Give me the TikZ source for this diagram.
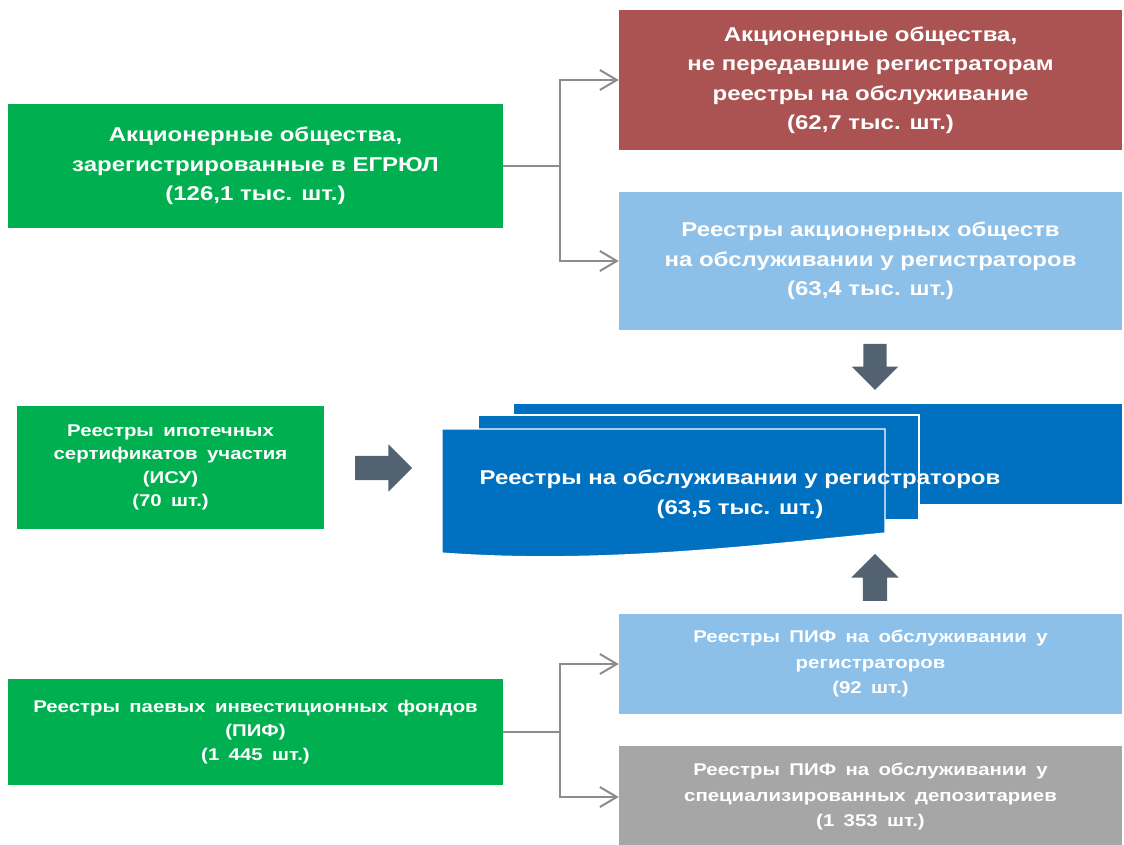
\documentclass[tikz,border=0pt]{standalone}
\usepackage{fontspec}
\setmainfont{Liberation Sans}[FakeStretch=1.2]
\usetikzlibrary{arrows.meta,shapes.arrows}
\definecolor{boxgreen}{RGB}{0,176,80}
\definecolor{boxred}{RGB}{170,83,82}
\definecolor{boxlight}{RGB}{141,192,232}
\definecolor{boxblue}{RGB}{0,112,192}
\definecolor{boxgray}{RGB}{166,166,166}
\definecolor{arrgray}{RGB}{83,98,112}
\definecolor{linegray}{RGB}{140,140,140}
\newcommand{\widesp}{\spaceskip=0.55em\relax}

\begin{document}
\begin{tikzpicture}[x=1pt,y=-1pt,
	box/.style={rectangle,inner sep=0pt,align=center,text=white,font=\bfseries\fontsize{20}{29.5}\selectfont},
	smallbox/.style={box,font=\bfseries\fontsize{17}{25.5}\selectfont\widesp},
	page/.style={fill=boxblue,draw=white,line width=1.2pt},
	link/.style={draw=linegray,line width=2pt},
	linkarr/.style={link,-{Straight Barb[length=17pt,width=20pt]}},
	blockarr/.style={single arrow,fill=arrgray,inner xsep=0pt,single arrow tip angle=90,single arrow head indent=0pt}]
	\useasboundingbox (0,0) rectangle (1124,844);
	\node (ao) at (255.5,166)[box,fill=boxgreen,minimum width=495,minimum height=124] {Акционерные общества,\\ зарегистрированные в ЕГРЮЛ\\ (126,1 тыс. шт.)};
	\node (notreg) at (870.5,80)[box,fill=boxred,minimum width=503,minimum height=140] {Акционерные общества,\\ не передавшие регистраторам\\ реестры на обслуживание\\ (62,7 тыс. шт.)};
	\node (onreg) at (870.5,261)[box,fill=boxlight,minimum width=503,minimum height=138] {Реестры акционерных обществ\\ на обслуживании у регистраторов\\ (63,4 тыс. шт.)};
	\node (isu) at (170.5,467.5)[smallbox,fill=boxgreen,minimum width=307,minimum height=123,font=\bfseries\fontsize{17}{23.5}\selectfont\widesp] {Реестры ипотечных\\ сертификатов участия\\ (ИСУ)\\ (70 шт.)};
	\node (pifreg) at (870.5,664)[smallbox,fill=boxlight,minimum width=503,minimum height=100] {Реестры ПИФ на обслуживании у\\ регистраторов\\ (92 шт.)};
	\node (pifdep) at (870.5,797)[smallbox,fill=boxgray,minimum width=503,minimum height=102] {Реестры ПИФ на обслуживании у\\ специализированных депозитариев\\ (1 353 шт.)};
	\node (pif) at (255.5,732)[smallbox,fill=boxgreen,minimum width=495,minimum height=106,font=\bfseries\fontsize{17}{24}\selectfont\widesp] {Реестры паевых инвестиционных фондов\\ (ПИФ)\\ (1 445 шт.)};
	\filldraw[page] (513,403) rectangle (1123,505);
	\filldraw[page] (478,415) rectangle (919,520);
	\filldraw[page] (442,429) -- (885,429) -- (885,533) .. controls (760,545) and (600,565) .. (442,553) -- cycle;
	\node (regs) at (740,494)[box] {Реестры на обслуживании у регистраторов\\ (63,5 тыс. шт.)};
	\node (arrisu) at (377.5,468)[blockarr,inner ysep=12pt,single arrow head extend=11.5pt,minimum height=57] {};
	\node (arrdown) at (875,361)[blockarr,rotate=-90,inner ysep=11.5pt,single arrow head extend=11.5pt,minimum height=46] {};
	\node (arrup) at (875,583.5)[blockarr,rotate=90,inner ysep=12pt,single arrow head extend=11.5pt,minimum height=47] {};
	\coordinate (jtop) at (560,166);
	\coordinate (jbot) at (560,732);
	\draw[link] (ao.east) -- (jtop);
	\draw[linkarr] (jtop) |- (notreg.west);
	\draw[linkarr] (jtop) |- (onreg.west);
	\draw[link] (pif.east) -- (jbot);
	\draw[linkarr] (jbot) |- (pifreg.west);
	\draw[linkarr] (jbot) |- (pifdep.west);
\end{tikzpicture}
\end{document}
